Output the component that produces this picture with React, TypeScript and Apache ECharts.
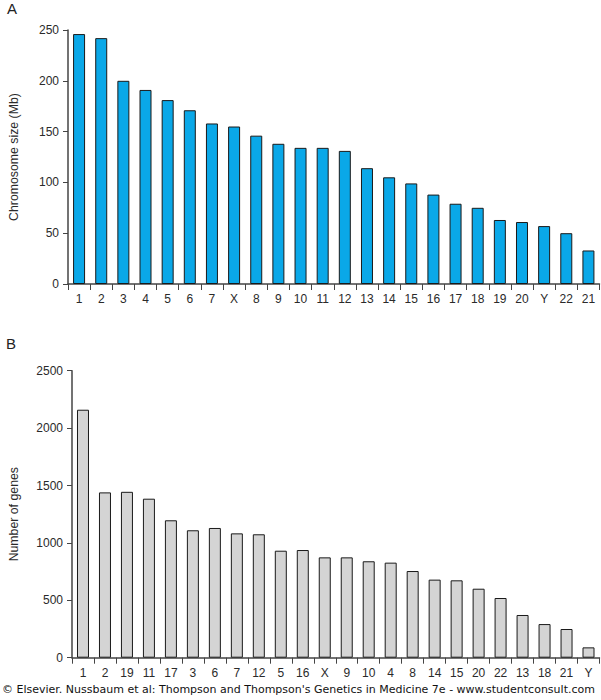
import React, { useEffect, useRef } from "react";
import * as echarts from "echarts";

const sizeCategories = ["1", "2", "3", "4", "5", "6", "7", "X", "8", "9", "10", "11", "12", "13", "14", "15", "16", "17", "18", "19", "20", "Y", "22", "21"];
const sizeValues = [246, 242, 200, 191, 181, 171, 158, 155, 146, 138, 134, 134, 131, 114, 105, 99, 88, 79, 75, 63, 61, 57, 50, 33];

const geneCategories = ["1", "2", "19", "11", "17", "3", "6", "7", "12", "5", "16", "X", "9", "10", "4", "8", "14", "15", "20", "22", "13", "18", "21", "Y"];
const geneValues = [2160, 1440, 1445, 1385, 1197, 1110, 1130, 1083, 1075, 932, 938, 874, 874, 840, 828, 755, 680, 674, 601, 520, 372, 293, 250, 90];

const sizeTicks = { min: 0, max: 250, interval: 50 };
const geneTicks = { min: 0, max: 2500, interval: 500 };

const FONT = "'Liberation Sans', Arial, sans-serif";

export default function App() {
  const ref = useRef<HTMLDivElement>(null);
  useEffect(() => {
    document.body.style.margin = "0";
    if (!ref.current) return;
    const chart = echarts.init(ref.current, null, { renderer: "svg" });
    const axisLine = { show: true, lineStyle: { color: "#444", width: 1.5 } };
    const xAxisCommon = {
      type: "category",
      axisLine,
      axisTick: { show: true, length: 6, lineStyle: { color: "#444" } },
      axisLabel: { color: "#2a2a2a", fontSize: 12, fontFamily: FONT, margin: 9 },
    };
    const yAxisCommon = {
      type: "value",
      axisLine,
      axisTick: { show: true, length: 5, lineStyle: { color: "#444" } },
      axisLabel: {
        color: "#2a2a2a",
        fontSize: 12,
        fontFamily: FONT,
        margin: 9,
        formatter: (v: number) => String(v),
      },
      splitLine: { show: false },
      nameLocation: "middle",
      nameTextStyle: { color: "#2a2a2a", fontSize: 12.3, fontFamily: FONT },
    };
    chart.setOption({
      animation: false,
      grid: [
        { left: 62, top: 30, width: 537.5, height: 254 },
        { left: 62, top: 370.7, width: 537.5, height: 287 },
      ],
      xAxis: [
        { ...xAxisCommon, gridIndex: 0, data: sizeCategories },
        { ...xAxisCommon, gridIndex: 1, data: geneCategories },
      ],
      yAxis: [
        { ...yAxisCommon, gridIndex: 0, ...sizeTicks, name: "Chromosome size (Mb)", nameGap: 48 },
        { ...yAxisCommon, gridIndex: 1, ...geneTicks, name: "Number of genes", nameGap: 52 },
      ],
      series: [
        {
          type: "bar",
          xAxisIndex: 0,
          yAxisIndex: 0,
          data: sizeValues,
          barWidth: 12,
          itemStyle: { color: "#0aa8e8", borderColor: "#1a1a1a", borderWidth: 1 },
        },
        {
          type: "bar",
          xAxisIndex: 1,
          yAxisIndex: 1,
          data: geneValues,
          barWidth: 12,
          itemStyle: { color: "#d4d4d4", borderColor: "#1a1a1a", borderWidth: 1 },
        },
      ],
      graphic: [
        { type: "text", left: 7, top: 1, style: { text: "A", fontSize: 15, fontFamily: FONT, fill: "#222" } },
        { type: "text", left: 6, top: 336, style: { text: "B", fontSize: 15, fontFamily: FONT, fill: "#222" } },
        {
          type: "text",
          left: 2,
          top: 684,
          style: {
            text: "© Elsevier. Nussbaum et al: Thompson and Thompson's Genetics in Medicine 7e - www.studentconsult.com",
            fontSize: 11,
            fontFamily: "'DejaVu Sans', Verdana, sans-serif",
            fill: "#111",
          },
        },
      ],
    });
    return () => chart.dispose();
  }, []);
  return <div ref={ref} style={{ width: 601, height: 700 }} />;
}
